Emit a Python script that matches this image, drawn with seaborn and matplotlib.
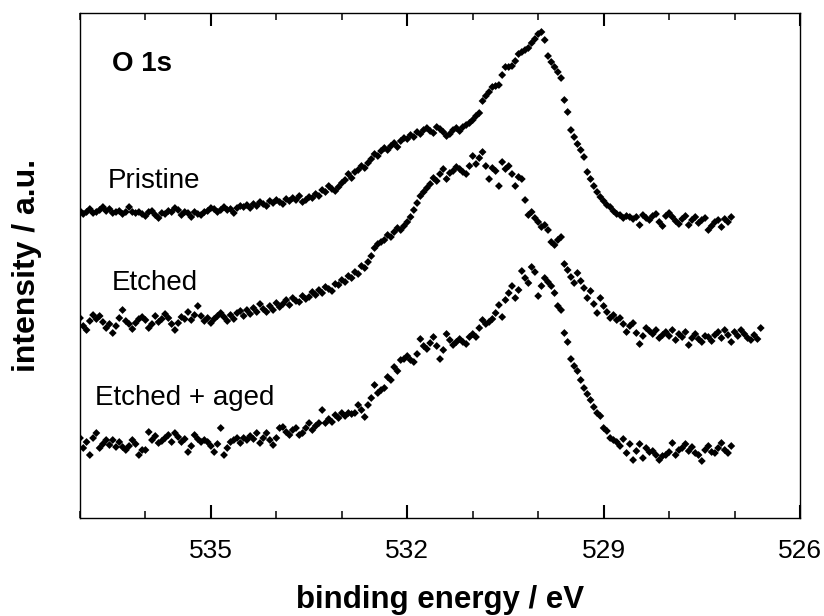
import numpy as np
import pandas as pd
import matplotlib
matplotlib.use("Agg")
import matplotlib.pyplot as plt
import seaborn as sns
from matplotlib.ticker import MultipleLocator

# binding energy grid, 0.05 eV step going down from 537 eV
E_START = 537.0
E_STEP = 0.05

# intensities (a.u., offset already included)
pristine = [
    307, 304, 306, 309, 305, 306, 308, 311, 307, 309,
    305, 306, 307, 304, 306, 311, 306, 305, 306, 304,
    302, 306, 307, 303, 300, 305, 304, 307, 306, 310,
    308, 303, 306, 305, 301, 306, 304, 303, 306, 307,
    310, 309, 306, 308, 311, 308, 309, 305, 310, 312,
    311, 313, 310, 314, 312, 316, 314, 312, 317, 315,
    318, 316, 314, 319, 317, 320, 318, 322, 316, 318,
    321, 320, 324, 322, 328, 326, 332, 329, 327, 331,
    335, 338, 344, 340, 346, 348, 352, 350, 355, 359,
    364, 362, 367, 370, 368, 372, 375, 371, 377, 380,
    379, 383, 381, 386, 384, 388, 390, 387, 385, 391,
    389, 386, 382, 384, 388, 390, 387, 391, 393, 395,
    398, 402, 405, 417, 422, 426, 431, 432, 433, 443,
    451, 451, 452, 457, 464, 466, 468, 470, 475, 479,
    484, 486, 478, 462, 456, 451, 446, 440, 418, 406,
    388, 381, 374, 368, 361, 346, 339, 332, 326, 321,
    317, 313, 311, 307, 304, 303, 300, 302, 301, 299,
    301, 293, 303, 300, 298, 302, 304, 296, 292, 302,
    305, 301, 297, 294, 299, 302, 293, 298, 301, 295,
    298, 300, 288, 292, 296, 298, 291, 299, 296, 301,
]

etched = [
    200, 192, 188, 197, 203, 199, 202, 196, 190, 194,
    185, 192, 200, 208, 197, 194, 189, 195, 199, 201,
    198, 190, 194, 202, 196, 199, 204, 200, 194, 188,
    195, 201, 199, 206, 198, 203, 212, 202, 197, 200,
    195, 199, 202, 205, 201, 197, 203, 199, 205, 207,
    202, 208, 204, 210, 206, 214, 209, 206, 212, 208,
    215, 211, 214, 218, 213, 220, 217, 216, 222, 219,
    221, 226, 223, 228, 225, 231, 229, 227, 234, 233,
    238, 236, 242, 240, 246, 244, 252, 250, 256, 262,
    270, 274, 276, 278, 283, 281, 286, 290, 288, 292,
    296, 301, 308, 315, 322, 326, 330, 334, 340, 337,
    344, 349, 339, 345, 347, 351, 349, 346, 344, 352,
    362, 354, 360, 366, 352, 339, 350, 347, 332, 356,
    349, 352, 344, 332, 341, 339, 318, 303, 306, 300,
    296, 291, 293, 288, 276, 273, 278, 281, 254, 248,
    241, 235, 245, 237, 230, 220, 227, 214, 205, 220,
    212, 206, 200, 203, 198, 200, 194, 186, 192, 195,
    185, 174, 182, 190, 187, 184, 188, 180, 183, 186,
    182, 188, 178, 184, 181, 186, 173, 180, 184, 179,
    176, 182, 181, 177, 183, 186, 180, 188, 183, 176,
    186, 182, 188, 184, 180, 178, 183, 179, 190,
]

etched_aged = [
    80, 70, 76, 63, 80, 85, 70, 74, 78, 73,
    78, 71, 76, 71, 68, 72, 78, 74, 63, 68,
    68, 86, 78, 82, 75, 77, 80, 83, 76, 85,
    81, 76, 79, 66, 72, 83, 79, 76, 78, 76,
    72, 66, 74, 90, 63, 70, 76, 78, 80, 75,
    80, 78, 82, 79, 85, 75, 80, 85, 78, 73,
    80, 90, 91, 86, 83, 88, 90, 83, 85, 90,
    95, 88, 92, 95, 108, 95, 99, 96, 103, 100,
    105, 102, 105, 104, 105, 113, 108, 101, 113, 120,
    133, 125, 128, 130, 141, 138, 151, 147, 158, 159,
    162, 158, 156, 164, 179, 172, 169, 175, 181, 172,
    159, 168, 184, 178, 173, 176, 179, 176, 174, 181,
    184, 181, 190, 198, 194, 196, 199, 205, 213, 201,
    218, 225, 232, 220, 228, 247, 240, 235, 251, 246,
    222, 232, 240, 236, 232, 225, 212, 208, 185, 176,
    159, 152, 147, 138, 130, 124, 118, 111, 105, 102,
    90, 87, 80, 78, 76, 72, 79, 65, 74, 58,
    67, 74, 60, 70, 66, 67, 63, 58, 62, 63,
    66, 75, 63, 68, 70, 74, 67, 71, 65, 63,
    57, 68, 72, 66, 65, 70, 75, 68, 65, 72,
]

labels = ["Pristine", "Etched", "Etched + aged"]
series = [pristine, etched, etched_aged]
major_ticks = [535, 532, 529, 526]

frames = []
for name, vals in zip(labels, series):
    energy = E_START - E_STEP * np.arange(len(vals))
    frames.append(pd.DataFrame({"energy": energy, "intensity": vals, "sample": name}))
df = pd.concat(frames, ignore_index=True)

sns.set_theme(style="ticks")
plt.rcParams["font.family"] = ["Liberation Sans", "DejaVu Sans"]
plt.rcParams["text.color"] = "black"
plt.rcParams["axes.labelcolor"] = "black"

fig = plt.figure(figsize=(8.24, 6.16), dpi=100)
ax = fig.add_axes([80 / 824, 98 / 616, 720 / 824, 505 / 616])

sns.scatterplot(data=df, x="energy", y="intensity", hue="sample",
                palette=["black"] * 3, marker="D", s=16, linewidth=0,
                legend=False, ax=ax)

ax.set_xlim(537, 526)
ax.set_ylim(0, 505)
ax.set_yticks([])
ax.set_xticks(major_ticks)
ax.xaxis.set_minor_locator(MultipleLocator(1))
ax.tick_params(axis="x", which="major", direction="in", top=True, length=9.5,
               width=1.5, labelsize=19, pad=15, colors="black")
ax.tick_params(axis="x", which="minor", direction="in", top=True, length=5,
               width=1.1, colors="black")
for sp in ax.spines.values():
    sp.set_linewidth(1.0)
    sp.set_color("black")

ax.set_xlabel("binding energy / eV", fontsize=22.5, fontweight="bold")
ax.set_ylabel("intensity / a.u.", fontsize=23, fontweight="bold")
ax.xaxis.set_label_coords(0.5, -0.132)
ax.yaxis.set_label_coords(-0.053, 0.5)

ax.text(536.51, 454, "O 1s", fontsize=20, fontweight="bold", va="center", ha="left")
ax.text(536.57, 337, "Pristine", fontsize=20, va="center", ha="left")
ax.text(536.51, 235, "Etched", fontsize=20, va="center", ha="left")
ax.text(536.77, 120, "Etched + aged", fontsize=20, va="center", ha="left")

fig.savefig("out.png", dpi=100)
